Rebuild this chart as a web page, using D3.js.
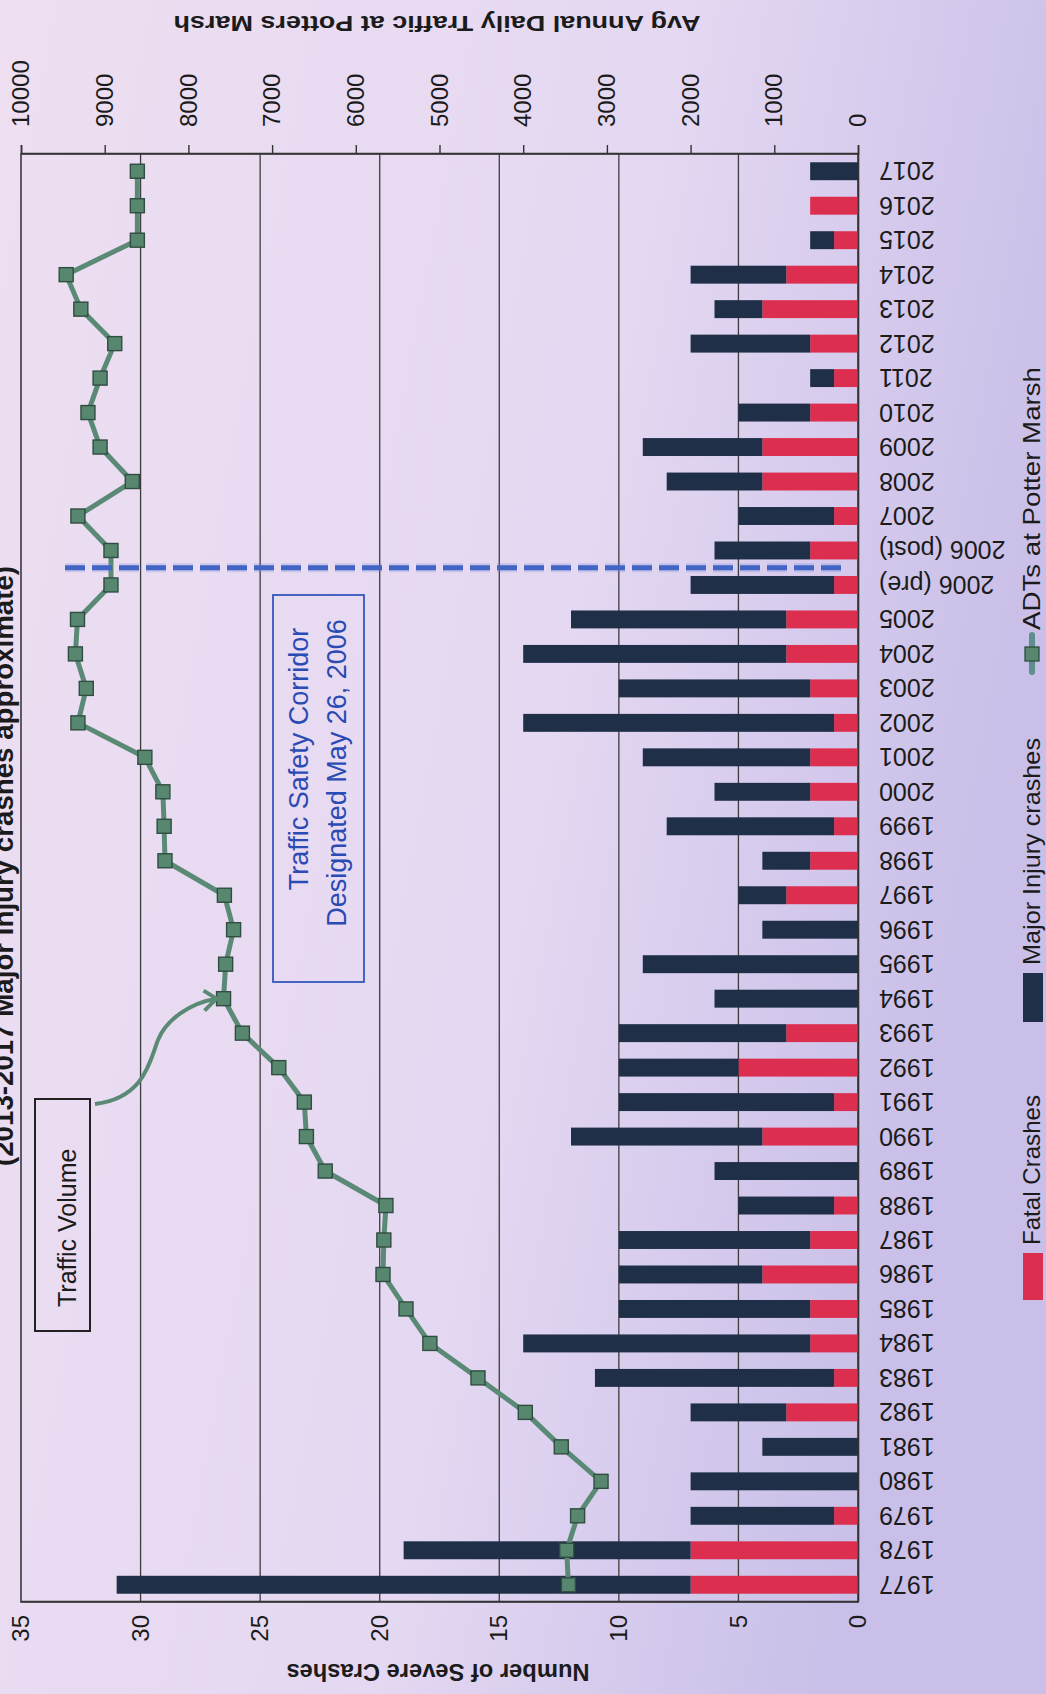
<!DOCTYPE html>
<html>
<head>
<meta charset="utf-8">
<script src="https://cdn.jsdelivr.net/npm/d3@7"></script>
<style>
html, body { margin: 0; padding: 0; background: #e4d9f0; }
svg { display: block; }
text { font-family: "Liberation Sans", Arial, sans-serif; fill: #1b1b1b; }
</style>
</head>
<body>
<svg id="chart" width="1046" height="1694"></svg>
<script>
var years = ['1977','1978','1979','1980','1981','1982','1983','1984','1985','1986','1987','1988','1989','1990',
  '1991','1992','1993','1994','1995','1996','1997','1998','1999','2000','2001','2002','2003','2004','2005',
  '2006 (pre)','2006 (post)','2007','2008','2009','2010','2011','2012','2013','2014','2015','2016','2017'];
var fatal = [7,7,1,0,0,3,1,2,2,4,2,1,0,4,1,5,3,0,0,0,3,2,1,2,2,1,2,3,3,1,2,1,4,4,2,1,2,4,3,1,2,0];
var major = [24,12,6,7,4,4,10,12,8,6,8,4,6,8,9,5,7,6,9,4,2,2,7,4,7,13,8,11,9,6,4,4,4,5,3,1,5,2,4,1,0,2];
var adt = [3460,3480,3350,3070,3545,3975,4540,5115,5400,5675,5665,5640,6365,6590,6615,6920,7355,7580,7555,7460,
  7570,8280,8290,8305,8520,9320,9220,9350,9325,8925,8925,9320,8670,9055,9200,9055,8880,9285,9460,8610,8610,8610];
var crashTicks = [0,5,10,15,20,25,30,35];
var adtTicks = [0,1000,2000,3000,4000,5000,6000,7000,8000,9000,10000];
var seriesNames = ['Fatal Crashes','Major Injury crashes','ADTs at Potter Marsh'];

var colFatal = '#dc2f4f', colMajor = '#1e2f47', colLine = '#5a8a76', colBlue = '#3557bd';

var svg = d3.select('#chart');

// scanned page tint
var defs = svg.append('defs');
var grad = defs.append('linearGradient').attr('id', 'paper')
  .attr('x1', 0).attr('y1', 0).attr('x2', 1).attr('y2', 0.3);
grad.append('stop').attr('offset', 0).attr('stop-color', '#eedff1');
grad.append('stop').attr('offset', 0.6).attr('stop-color', '#e4d8f2');
grad.append('stop').attr('offset', 1).attr('stop-color', '#c9bfe8');
svg.append('rect').attr('width', 1046).attr('height', 1694).attr('fill', 'url(#paper)');

// the chart is drawn upright and turned a quarter turn (page was scanned sideways)
var g = svg.append('g').attr('transform', 'translate(0,1694) rotate(-90)');

var plot = {x0: 92, x1: 1540, y0: 21, y1: 858};

var x = d3.scaleBand().domain(years).range([plot.x0, plot.x1]).paddingInner(0.48).paddingOuter(0.24);
var yC = d3.scaleLinear().domain([0, 35]).range([plot.y1, plot.y0]);
var yA = d3.scaleLinear().domain([0, 10000]).range([plot.y1, plot.y0]);

// gridlines
g.append('g').selectAll('line').data(crashTicks.slice(1, -1)).enter().append('line')
  .attr('x1', plot.x0).attr('x2', plot.x1)
  .attr('y1', function (d) { return yC(d) }).attr('y2', function (d) { return yC(d) })
  .attr('stroke', '#3c3c3c').attr('stroke-width', 1.3);

g.append('rect').attr('x', plot.x0).attr('y', plot.y0)
  .attr('width', plot.x1 - plot.x0).attr('height', plot.y1 - plot.y0)
  .attr('fill', 'none').attr('stroke', '#3a3a3a').attr('stroke-width', 1.6);

// stacked bars
var rows = years.map(function (y, i) { return {year: y, fatal: fatal[i], major: major[i], adt: adt[i]} });
var bars = g.append('g');
bars.selectAll('rect.fatal').data(rows).enter().append('rect').attr('class', 'fatal')
  .attr('x', function (d) { return x(d.year) }).attr('width', x.bandwidth())
  .attr('y', function (d) { return yC(d.fatal) })
  .attr('height', function (d) { return yC(0) - yC(d.fatal) })
  .attr('fill', colFatal);
bars.selectAll('rect.major').data(rows).enter().append('rect').attr('class', 'major')
  .attr('x', function (d) { return x(d.year) }).attr('width', x.bandwidth())
  .attr('y', function (d) { return yC(d.fatal + d.major) })
  .attr('height', function (d) { return yC(d.fatal) - yC(d.fatal + d.major) })
  .attr('fill', colMajor);

// axes
var axC = g.append('g').attr('transform', 'translate(' + plot.x0 + ',0)')
  .call(d3.axisLeft(yC).tickValues(crashTicks).tickSize(0).tickPadding(13));
var axA = g.append('g').attr('transform', 'translate(' + plot.x1 + ',0)')
  .call(d3.axisRight(yA).tickValues(adtTicks).tickFormat(d3.format('d')).tickSize(9).tickPadding(18));
var axX = g.append('g').attr('transform', 'translate(0,' + plot.y1 + ')')
  .call(d3.axisBottom(x).tickSize(0));
[axC, axA, axX].forEach(function (a) {
  a.select('.domain').attr('stroke', '#333').attr('stroke-width', 1.6);
  a.selectAll('line').attr('stroke', '#333').attr('stroke-width', 1.4);
  a.selectAll('text').attr('font-size', 24).attr('font-family', '"Liberation Sans", Arial, sans-serif').attr('fill', '#1b1b1b');
});
axX.selectAll('text')
  .attr('font-size', 25)
  .attr('x', -21).attr('y', 0).attr('dy', '0.36em')
  .attr('transform', 'rotate(-90)').style('text-anchor', 'end');

// axis titles
g.append('text').attr('transform', 'translate(22,438) rotate(-90)')
  .attr('text-anchor', 'middle').attr('dominant-baseline', 'central')
  .attr('font-weight', 'bold').attr('font-size', 23).attr('textLength', 303).attr('lengthAdjust', 'spacingAndGlyphs')
  .text('Number of Severe Crashes');
g.append('text').attr('transform', 'translate(1671,437) rotate(-90)')
  .attr('text-anchor', 'middle').attr('dominant-baseline', 'central')
  .attr('font-weight', 'bold').attr('font-size', 22).attr('textLength', 527).attr('lengthAdjust', 'spacingAndGlyphs')
  .text('Avg Annual Daily Traffic at Potters Marsh');

// subtitle, cut by the page edge
g.append('text').attr('x', 828).attr('y', 13).attr('text-anchor', 'middle')
  .attr('font-weight', 'bold').attr('font-size', 28).attr('textLength', 600).attr('lengthAdjust', 'spacingAndGlyphs')
  .text('(2013-2017 Major Injury crashes approximate)');

// ADT line + markers
var line = d3.line()
  .x(function (d) { return x(d.year) + x.bandwidth() / 2 })
  .y(function (d) { return yA(d.adt) });
g.append('path').datum(rows).attr('d', line)
  .attr('fill', 'none').attr('stroke', colLine).attr('stroke-width', 5).attr('stroke-linejoin', 'round');
g.append('g').selectAll('rect').data(rows).enter().append('rect')
  .attr('x', function (d) { return x(d.year) + x.bandwidth() / 2 - 7 })
  .attr('y', function (d) { return yA(d.adt) - 7 })
  .attr('width', 14).attr('height', 14)
  .attr('fill', '#58876f').attr('stroke', '#2f4d40').attr('stroke-width', 1.4);

// corridor designation marker between 2006 pre / post
var xCut = (x('2006 (pre)') + x('2006 (post)') + x.bandwidth()) / 2;
g.append('line').attr('x1', xCut).attr('x2', xCut).attr('y1', 65).attr('y2', 843)
  .attr('stroke', '#6f86d6').attr('stroke-width', 9).attr('opacity', 0.25).attr('stroke-dasharray', '20,7');
g.append('line').attr('x1', xCut).attr('x2', xCut).attr('y1', 65).attr('y2', 843)
  .attr('stroke', '#4264c4').attr('stroke-width', 5).attr('stroke-dasharray', '20,7');

g.append('rect').attr('x', 712).attr('y', 273).attr('width', 387).attr('height', 91)
  .attr('fill', 'none').attr('stroke', colBlue).attr('stroke-width', 1.8);
g.append('text').attr('x', 935).attr('y', 308).attr('text-anchor', 'middle')
  .attr('font-size', 27).style('fill', '#2a4ab4').text('Traffic Safety Corridor');
g.append('text').attr('x', 921).attr('y', 346).attr('text-anchor', 'middle')
  .attr('font-size', 27).style('fill', '#2a4ab4').text('Designated May 26, 2006');

// traffic volume callout
g.append('rect').attr('x', 363).attr('y', 35).attr('width', 232).attr('height', 55)
  .attr('fill', 'none').attr('stroke', '#222').attr('stroke-width', 2);
g.append('text').attr('x', 387).attr('y', 76).attr('font-size', 25).text('Traffic Volume');

var tipX = x('1994') + x.bandwidth() / 2, tipY = yA(adt[years.indexOf('1994')]) - 7;
g.append('path')
  .attr('d', 'M590,95 C596,145 634,150 654,158 S' + (tipX - 4) + ',190 ' + tipX + ',' + tipY)
  .attr('fill', 'none').attr('stroke', colLine).attr('stroke-width', 4);
g.append('path')
  .attr('d', 'M' + (tipX + 8) + ',' + (tipY - 13) + ' L' + tipX + ',' + tipY + ' L' + (tipX - 12) + ',' + (tipY - 12))
  .attr('fill', 'none').attr('stroke', colLine).attr('stroke-width', 4);

// legend
var leg = g.append('g');
leg.append('rect').attr('x', 394).attr('y', 1023).attr('width', 47).attr('height', 20).attr('fill', colFatal);
leg.append('text').attr('x', 449).attr('y', 1040).attr('font-size', 24)
  .attr('textLength', 150).attr('lengthAdjust', 'spacingAndGlyphs').text(seriesNames[0]);
leg.append('rect').attr('x', 672).attr('y', 1023).attr('width', 49).attr('height', 20).attr('fill', colMajor);
leg.append('text').attr('x', 729).attr('y', 1040).attr('font-size', 24)
  .attr('textLength', 227).attr('lengthAdjust', 'spacingAndGlyphs').text(seriesNames[1]);
leg.append('line').attr('x1', 1022).attr('x2', 1059).attr('y1', 1032).attr('y2', 1032)
  .attr('stroke', '#5f8f8c').attr('stroke-width', 6).attr('stroke-linecap', 'round');
leg.append('rect').attr('x', 1033).attr('y', 1025).attr('width', 14).attr('height', 14)
  .attr('fill', '#58876f').attr('stroke', '#2f4d40').attr('stroke-width', 1.3);
leg.append('text').attr('x', 1064).attr('y', 1040).attr('font-size', 24)
  .attr('textLength', 263).attr('lengthAdjust', 'spacingAndGlyphs').text(seriesNames[2]);
</script>
</body>
</html>
